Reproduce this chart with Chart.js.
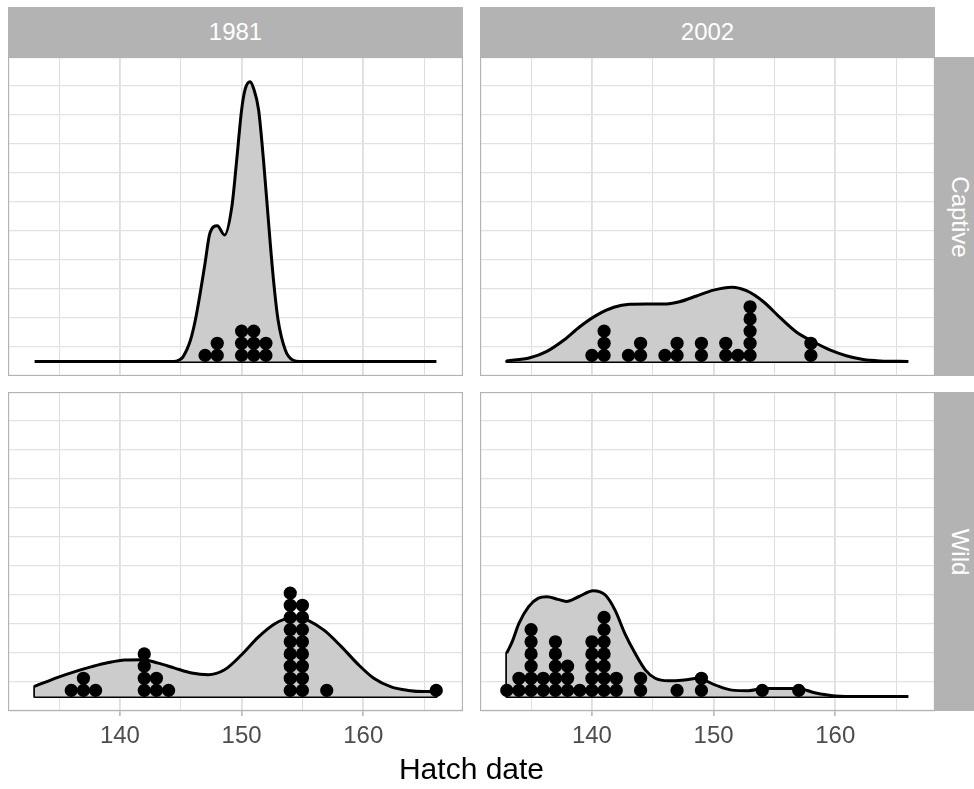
<!DOCTYPE html>
<html>
<head>
<meta charset="utf-8">
<script src="https://cdn.jsdelivr.net/npm/chart.js@4.4.0/dist/chart.umd.min.js"></script>
<style>
    body { margin: 0; width: 974px; height: 789px; overflow: hidden; background: #fff; position: relative;
           font-family: "Liberation Sans", Arial, sans-serif; }
    .strip { position: absolute; background: #b3b3b3; color: #fff; font-size: 24px;
             display: flex; align-items: center; justify-content: center; }
    .strip.v span { transform: rotate(90deg); white-space: nowrap; }
    canvas { position: absolute; }
    #xtitle { position: absolute; left: 8px; width: 927px; top: 752px; text-align: center; font-size: 30px; color: #000; }
</style>
</head>
<body>
<div class="strip" style="left:8px;top:7px;width:455px;height:50px">1981</div>
<div class="strip" style="left:480px;top:7px;width:455px;height:50px">2002</div>
<div class="strip v" style="left:935px;top:57px;width:50px;height:319px"><span>Captive</span></div>
<div class="strip v" style="left:935px;top:392px;width:50px;height:319px"><span>Wild</span></div>

<canvas id="captive1981" width="455" height="319" style="left:8px;top:57px"></canvas>
<canvas id="captive2002" width="455" height="319" style="left:480px;top:57px"></canvas>
<canvas id="wild1981" width="455" height="364" style="left:8px;top:392px"></canvas>
<canvas id="wild2002" width="455" height="364" style="left:480px;top:392px"></canvas>
<div id="xtitle">Hatch date</div>

<script>
// density curves (x = hatch day, y = height in grid steps)
const captive1981X = [133, 144.4, 144.9, 145.2, 145.8, 146.2, 146.6, 147.0, 147.4, 148.0, 148.6, 149.2, 149.6, 150.0, 150.3, 150.7, 151.0, 151.4, 151.8, 152.2, 152.6, 153.0, 153.6, 154.2, 154.8, 166];
const captive1981Y = [0, 0, 0.06, 0.17, 0.74, 1.43, 2.36, 3.40, 4.43, 4.68, 4.36, 5.34, 6.95, 8.67, 9.4, 9.65, 9.4, 8.67, 6.95, 4.88, 2.91, 1.43, 0.39, 0.05, 0, 0];

const captive2002X = [133, 134.9, 136.3, 137.7, 139.0, 140.4, 141.8, 143.1, 144.5, 145.9, 147.2, 148.6, 150.0, 151.5, 152.7, 154.1, 155.4, 156.8, 158.2, 159.6, 160.9, 162.3, 163.7, 166];
const captive2002Y = [0.02, 0.13, 0.35, 0.74, 1.2, 1.6, 1.87, 1.97, 1.98, 1.98, 2.06, 2.26, 2.46, 2.56, 2.44, 2.06, 1.54, 1.02, 0.68, 0.39, 0.2, 0.07, 0.02, 0];

const wild1981X = [133, 134.95, 136.3, 137.7, 139.05, 140.4, 141.8, 143.15, 144.5, 145.9, 147.25, 148.6, 150.0, 151.35, 152.7, 153.5, 154.6, 155.5, 156.8, 158.2, 159.6, 160.9, 162.3, 163.7, 165.0, 166];
const wild1981Y = [0.35, 0.67, 0.86, 1.03, 1.17, 1.26, 1.27, 1.15, 0.98, 0.81, 0.75, 0.92, 1.44, 2.04, 2.5, 2.66, 2.72, 2.62, 2.28, 1.72, 1.1, 0.62, 0.33, 0.21, 0.17, 0.17];

const wild2002X = [133, 133.45, 134.0, 134.8, 135.6, 136.3, 137.2, 137.9, 138.9, 140.1, 141.1, 141.9, 142.7, 143.55, 144.4, 145.2, 146.3, 147.6, 148.7, 150.1, 151.5, 152.85, 154.2, 155.6, 156.95, 158.3, 160.0, 162.0, 166];
const wild2002Y = [1.5, 1.89, 2.52, 3.10, 3.39, 3.44, 3.35, 3.28, 3.44, 3.65, 3.50, 2.98, 2.18, 1.49, 0.91, 0.63, 0.54, 0.57, 0.63, 0.40, 0.22, 0.20, 0.28, 0.28, 0.28, 0.13, 0.02, 0, 0];

// dot plot: one stack per hatch day
const captive1981Days = [147, 148, 150, 151, 152];
const captive1981Counts = [1, 2, 3, 3, 2];
const captive2002Days = [140, 141, 143, 144, 146, 147, 149, 151, 152, 153, 158];
const captive2002Counts = [1, 3, 1, 2, 1, 2, 2, 2, 1, 5, 2];
const wild1981Days = [136, 137, 138, 142, 143, 144, 154, 155, 157, 166];
const wild1981Counts = [1, 2, 1, 4, 2, 1, 9, 8, 1, 1];
const wild2002Days = [133, 134, 135, 136, 137, 138, 139, 140, 141, 142, 144, 147, 149, 154, 157];
const wild2002Counts = [1, 2, 6, 2, 5, 3, 1, 5, 7, 2, 2, 1, 2, 1, 1];

const xLimits = [130.8, 168.2];
const yLimits = [-0.5, 10.5];

// a dot is one day wide; stacks go up by the same size on the y scale
const dotStep = (455 / (xLimits[1] - xLimits[0])) / (319 / (yLimits[1] - yLimits[0]));

const panelBorder = {
    id: 'panelBorder',
    afterDraw(chart) {
        const a = chart.chartArea;
        const ctx = chart.ctx;
        ctx.save();
        ctx.strokeStyle = '#b3b3b3';
        ctx.lineWidth = 1.3;
        ctx.strokeRect(a.left + 0.5, a.top + 0.5, a.width - 1, a.height - 1);
        ctx.restore();
    },
};

function makePanel(id, densX, densY, days, counts, showTicks) {
    const density = densX.map((x, i) => ({ x: x, y: densY[i] }));
    const last = densX.length - 1;
    // closing edges of the density area: ends down to zero and the base line
    const outline = [
        { x: densX[0], y: densY[0] },
        { x: densX[0], y: 0 },
        { x: densX[last], y: 0 },
        { x: densX[last], y: densY[last] },
    ];
    const dots = [];
    days.forEach((d, i) => {
        for (let k = 0; k < counts[i]; k++) {
            dots.push({ x: d, y: dotStep / 2 + k * dotStep });
        }
    });

    new Chart(document.getElementById(id), {
        type: 'line',
        data: {
            datasets: [
                {
                    type: 'scatter',
                    data: dots,
                    backgroundColor: '#000',
                    borderWidth: 0,
                    pointRadius: 6.6,
                    order: 0,
                },
                {
                    data: density,
                    borderColor: '#000',
                    borderWidth: 3,
                    backgroundColor: '#cccccc',
                    fill: { value: 0 },
                    pointRadius: 0,
                    cubicInterpolationMode: 'monotone',
                    borderJoinStyle: 'round',
                    order: 1,
                },
                {
                    data: outline,
                    borderColor: '#000',
                    borderWidth: 3,
                    borderJoinStyle: 'round',
                    pointRadius: 0,
                    fill: false,
                    order: 2,
                },
            ],
        },
        options: {
            responsive: false,
            animation: false,
            devicePixelRatio: 1,
            layout: { padding: 0, autoPadding: false },
            plugins: { legend: { display: false }, tooltip: { enabled: false } },
            scales: {
                x: {
                    type: 'linear',
                    min: xLimits[0],
                    max: xLimits[1],
                    border: { display: false },
                    grid: {
                        color: '#dedede',
                        lineWidth: c => (c.tick && c.tick.value % 10 === 0) ? 1.8 : 1,
                        drawTicks: showTicks,
                        tickLength: 5,
                        tickColor: c => (c.tick && c.tick.value % 10 === 0) ? '#b3b3b3' : 'rgba(0,0,0,0)',
                        tickWidth: 1.5,
                    },
                    ticks: {
                        display: showTicks,
                        stepSize: 5,
                        includeBounds: false,
                        autoSkip: false,
                        maxRotation: 0,
                        padding: 6,
                        color: '#4d4d4d',
                        font: { family: 'Liberation Sans', size: 24 },
                        callback: v => (v % 10 === 0 ? v : ''),
                    },
                    afterFit: s => { s.height = showTicks ? 45 : 0; },
                },
                y: {
                    type: 'linear',
                    min: yLimits[0],
                    max: yLimits[1],
                    border: { display: false },
                    grid: { color: '#e2e2e2', lineWidth: 1.2, drawTicks: false },
                    ticks: { display: false, stepSize: 1, includeBounds: false },
                    afterFit: s => { s.width = 0; },
                },
            },
        },
        plugins: [panelBorder],
    });
}

makePanel('captive1981', captive1981X, captive1981Y, captive1981Days, captive1981Counts, false);
makePanel('captive2002', captive2002X, captive2002Y, captive2002Days, captive2002Counts, false);
makePanel('wild1981', wild1981X, wild1981Y, wild1981Days, wild1981Counts, true);
makePanel('wild2002', wild2002X, wild2002Y, wild2002Days, wild2002Counts, true);
</script>
</body>
</html>
